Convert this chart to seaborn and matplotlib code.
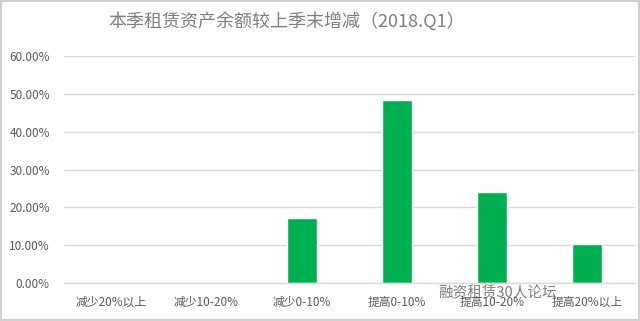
import matplotlib
matplotlib.use("Agg")
import matplotlib.pyplot as plt
import seaborn as sns
import pandas as pd
from matplotlib.ticker import FuncFormatter, MultipleLocator
from matplotlib.patches import Rectangle

categories = ["减少20%以上", "减少10-20%", "减少0-10%", "提高0-10%", "提高10-20%", "提高20%以上"]
values = [0.0, 0.0, 0.1724, 0.4828, 0.2414, 0.1034]
title = "本季租赁资产余额较上季末增减（2018.Q1）"
watermark = "融资租赁30人论坛"

df = pd.DataFrame({"cat": categories, "val": values})

sns.set_theme(style="white")
plt.rcParams["font.family"] = ["Noto Sans CJK SC", "DejaVu Sans"]

fig = plt.figure(figsize=(6.4, 3.21), dpi=100)
ax = fig.add_axes([0.0995, 0.118, 0.8925, 0.7075])

sns.barplot(data=df, x="cat", y="val", color="#00B050", saturation=1, width=0.315, ax=ax)

ax.set_ylim(0, 0.6)
ax.set_xlim(-0.5, len(categories) - 0.5)
ax.yaxis.set_major_locator(MultipleLocator(0.1))
ax.yaxis.set_major_formatter(FuncFormatter(lambda v, p: f"{v*100:.2f}%"))
ax.grid(axis="y", color="#d9d9d9", linewidth=1)
ax.set_axisbelow(True)
for s in ["top", "right", "left"]:
    ax.spines[s].set_visible(False)
ax.spines["bottom"].set_color("#d9d9d9")
ax.spines["bottom"].set_linewidth(1)
ax.set_xlabel("")
ax.set_ylabel("")
ax.tick_params(axis="both", length=0, colors="#595959", labelsize=8.5)
ax.tick_params(axis="x", pad=9)
ax.tick_params(axis="y", pad=10)

fig.text(0.448, 0.93, title, ha="center", va="center", fontsize=13, color="#7f7f7f")
fig.text(0.778, 0.085, watermark, ha="center", va="center", fontsize=10.5,
         color="#505050", alpha=0.75, zorder=5)

fig.patches.append(Rectangle((0.002, 0.003), 0.996, 0.994, transform=fig.transFigure,
                             fill=False, edgecolor="#d0d0d0", linewidth=1.5))

fig.savefig("out.png", dpi=100)
